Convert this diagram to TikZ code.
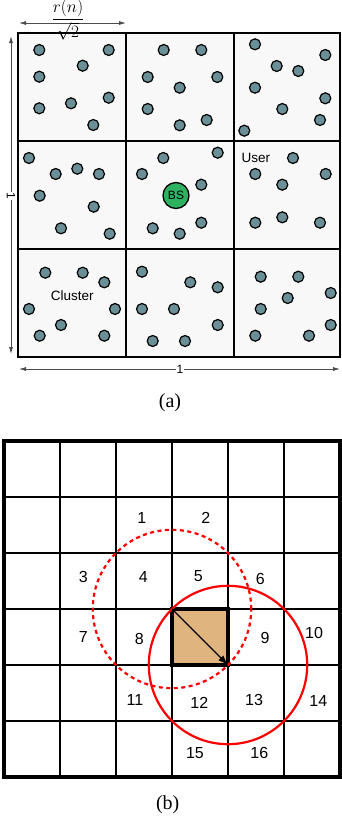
\documentclass[tikz,border=0pt]{standalone}
\usepackage{amsmath}
\usepackage{fontspec}
\setmainfont{Liberation Serif}
\newfontfamily\arialfont{Liberation Sans}
\usepackage{xcolor}
\usetikzlibrary{arrows.meta}

\definecolor{usercol}{HTML}{6A8F96}
\definecolor{bscol}{HTML}{2DB35F}
\definecolor{cellcol}{HTML}{E0B47E}
\definecolor{clustfill}{HTML}{F8F8F8}

\tikzset{
    user/.style={circle, draw=black, line width=1.2pt, fill=usercol, minimum size=11pt, inner sep=0pt},
    lbl/.style={font=\arialfont\fontsize{13.5}{15}\selectfont},
    small lbl/.style={font=\arialfont\fontsize{12}{14}\selectfont},
    num/.style={font=\arialfont\fontsize{16}{18}\selectfont},
    captext/.style={font=\fontsize{20}{22}\selectfont},
    dimline/.style={{Latex[length=7pt,width=4pt]}-{Latex[length=7pt,width=4pt]}, line width=0.8pt, black!70},
}

\begin{document}
\begin{tikzpicture}[x=1pt, y=-1pt]
    % Fix the page to the 341 x 825 frame
    \useasboundingbox (0,0) rectangle (341,825);

    % ---------------- (a) clusters ----------------
    \fill[clustfill] (18,33) rectangle (340,357);
    \foreach \k in {126,234} \draw[line width=2pt] (\k,33) -- (\k,357);% Vertical cluster borders
    \foreach \k in {141,249} \draw[line width=2pt] (18,\k) -- (340,\k);% Horizontal cluster borders
    \draw[line width=2.5pt] (18,33) rectangle (340,357);

    % Users (x, y in pixels of the frame)
    \foreach \px/\py [count=\i] in {
        39.3/50, 108.7/50, 82.7/65.7, 39.3/76.7, 39.3/108.3, 71/103.3, 108.7/97.7, 93.3/125,
        163.7/50, 201.3/50, 147.7/77, 179.7/87.7, 217.3/77, 147.7/109, 179.7/125.3, 206.7/120,
        255/44.3, 325.3/55, 276.7/66, 298.3/71, 255/87.7, 325.3/98.3, 282.3/109, 320/120, 244.3/130.7,
        29/158, 55.7/174, 77.3/168.7, 99/174, 39.7/195.7, 93.7/206.7, 61/228.3, 109.7/233.7,
        163.3/158, 217.7/152.7, 142/174, 201.3/184.7, 152.7/228.3, 179.7/233.7, 201.3/222.7,
        293/158, 255.3/174, 325.7/174, 282.3/184.7, 255.3/222.7, 282.3/217.3, 320/222.7,
        45.3/272.7, 82.7/272.7, 104.3/282.3, 29/309, 115/309, 61/325, 39.7/335.7, 104.3/335.7,
        142/271.7, 190.3/282.3, 217.7/287.3, 142/309, 174/309, 217.7/325, 152.7/341, 185/341,
        260.7/276.7, 298.3/276.7, 330.7/293, 287.7/298, 260.7/309, 330.7/325, 255.3/335.7, 309/335.7}
        \node[user] (u\i) at (\px,\py) {};

    % Base station and labels
    \node[circle, draw=black, line width=1.3pt, fill=bscol, minimum size=26pt, inner sep=0pt, small lbl] (bs) at (176,195.5) {BS};
    \node[lbl, anchor=west, inner sep=0pt] (user) at (241.5,158) {User};
    \node[lbl] (cluster) at (72.3,295.3) {Cluster};

    % Dimension arrows
    \coordinate (topL) at (19,23);
    \coordinate (topR) at (126,23);
    \draw[dimline] (topL) -- (topR);
    \node[font=\fontsize{16}{18}\selectfont, inner sep=0pt] (rn) at (68,19.5) {$\dfrac{r(n)}{\sqrt{2}}$};

    \coordinate (leftT) at (11,36);
    \coordinate (leftB) at (11,354);
    \draw[dimline] (leftT) -- (leftB);
    \node[small lbl, rotate=-90, fill=white, inner sep=1pt] (sideOne) at (11,196) {1};

    \coordinate (botL) at (19,369);
    \coordinate (botR) at (340,369);
    \draw[dimline] (botL) -- (botR);
    \node[small lbl, fill=white, inner sep=1pt] (botOne) at (180,369) {1};

    \node[captext] (capA) at (170,402.7) {(a)};

    % ---------------- (b) cell grid ----------------
    \foreach \k in {1,...,5} {
        \draw[line width=2.6pt] (4+56*\k,441) -- (4+56*\k,777);
        \draw[line width=2.6pt] (4,441+56*\k) -- (340,441+56*\k);
    }
    \draw[line width=3.5pt] (4,441) rectangle (340,777);

    % Shaded cell
    \coordinate (sqTL) at (172,609);
    \coordinate (sqBR) at (228,665);
    \filldraw[fill=cellcol, line width=3.5pt] (sqTL) rectangle (sqBR);

    % Cell numbers
    \foreach \px/\py/\t in {
        141.7/518.3/1, 205.7/518.3/2, 83.3/577.3/3, 143.3/577.3/4, 198.3/576/5, 260.3/579/6,
        83.3/636.7/7, 139.3/639/8, 265/637.7/9, 314/633.3/10,
        135/700/11, 199.3/702.7/12, 254/700/13, 318.3/700.7/14, 195/753.3/15, 259.3/753.3/16}
        \node[num] (c\t) at (\px,\py) {\t};

    % Circles of radius = cell diagonal
    \draw[red, line width=2.2pt, dash pattern=on 4pt off 3.5pt] (sqTL) circle[radius=79.2pt];
    \draw[red, line width=2.2pt] (sqBR) circle[radius=79.2pt];
    \draw[-{Latex[length=10pt,width=7pt]}, line width=1.2pt] (sqTL) -- (sqBR);

    \node[captext] (capB) at (167.7,805) {(b)};
\end{tikzpicture}
\end{document}
